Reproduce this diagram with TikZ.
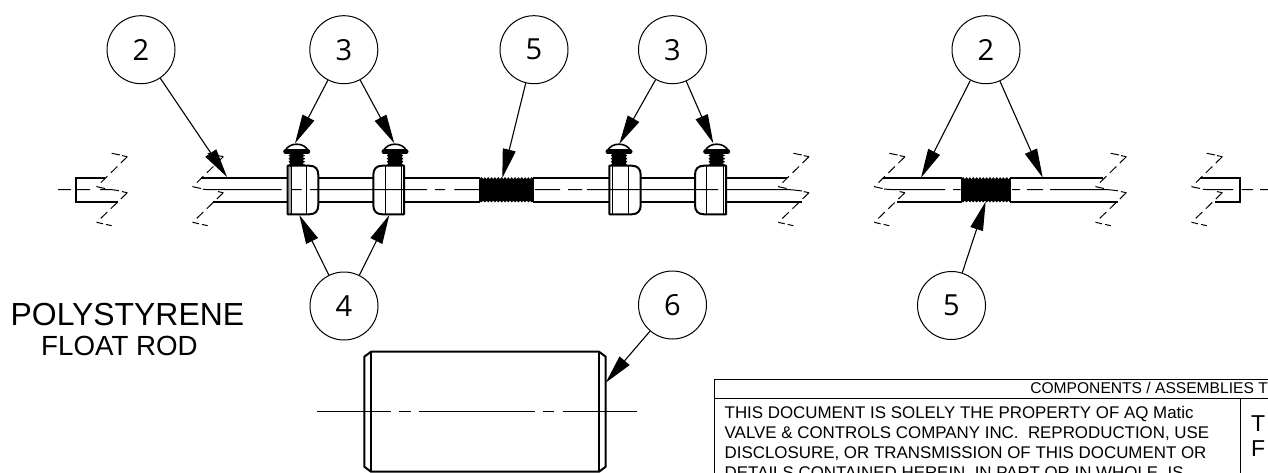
\documentclass[tikz,border=0pt]{standalone}
\usepackage{fontspec}
\setmainfont{Open Sans}
\newfontfamily\arialf{Liberation Sans}
\usetikzlibrary{arrows.meta}
\tikzset{
  balloon/.style={draw,circle,line width=1pt,minimum size=68pt,inner sep=0pt,font=\fontsize{29}{29}\selectfont},
  leader/.style={line width=1.1pt,-{Triangle[length=29pt,width=13pt]}},
  outline/.style={line width=2pt},
  centre/.style={line width=1pt},
  brk/.style={line width=1pt,dash pattern=on 9pt off 5pt},
  thin line/.style={line width=1pt},
  lbl/.style={anchor=base west,inner sep=0pt},
}
\newcommand{\breaksym}[1]{%
  \begin{scope}[xshift=#1pt]
  \draw[thin line] (111.7,153.3)--(120,155);
  \draw[brk] (127.3,156.7)--(96.7,186.7);
  \draw[thin line] (127.3,156.7)--(122,155.6);
  \draw[thin line] (96.7,186.7)--(105,188.5);
  \draw[thin line] (127.3,192.7)--(122,191.6);
  \draw[brk] (127.3,192.7)--(96.7,222.3);
  \draw[thin line] (96.7,222.3)--(103,223.8);
  \draw[thin line] (106,224.4)--(111.7,225.7);
  \end{scope}}
\newcommand{\threadblock}[2]{%
  \fill (#1,178.8) rectangle (#2,200.8);
  \foreach \k in {0,...,30}{
    \pgfmathsetmacro{\tx}{#1+1.5+\k*3.35}
    \pgfmathparse{\tx<#2?1:0}
    \ifnum\pgfmathresult=1
      \fill (\tx,178.6) circle (1.4pt);
      \fill (\tx,201) circle (1.4pt);
    \fi
  }}
\newcommand{\screw}[1]{%
  \begin{scope}[xshift=#1pt]
  \fill (-6.7,153) rectangle (6.7,166.5);
  \foreach \yy in {155.5,158.6,161.7,164.8}{\fill (-7,\yy) circle (1.2pt);\fill (7,\yy) circle (1.2pt);}
  \draw[line width=1.6pt,fill=white,line join=round] (-12,151.5) .. controls (-9.5,146.2) and (-5,144.2) .. (0,144.2) .. controls (5,144.2) and (9.5,146.2) .. (12,151.5) -- cycle;
  \draw[line width=4.6pt,line cap=round] (-11.2,151.7) -- (11.2,151.7);
  \end{scope}}
\newcommand{\clampL}[3]{%
  \draw[outline,fill=white,line join=round] (#1,165.7) -- (#2-9,165.7) .. controls (#2-3,165.7) and (#2,169) .. (#2,175) -- (#2,205) .. controls (#2,211) and (#2-3,214.3) .. (#2-9,214.3) -- (#1,214.3) -- cycle;
  \draw[line width=1.4pt] (#1+3.3,165.7) -- (#1+3.3,214.3);
  \draw[line width=1.4pt] (#3,165.7) -- (#3,214.3);}
\newcommand{\clampR}[3]{%
  \draw[outline,fill=white,line join=round] (#2,165.7) -- (#1+9,165.7) .. controls (#1+3,165.7) and (#1,169) .. (#1,175) -- (#1,205) .. controls (#1,211) and (#1+3,214.3) .. (#1+9,214.3) -- (#2,214.3) -- cycle;
  \draw[line width=1.4pt] (#2-2.5,165.7) -- (#2-2.5,214.3);
  \draw[line width=1.4pt] (#3,165.7) -- (#3,214.3);}
\begin{document}
\begin{tikzpicture}[x=1pt,y=-1pt]
\useasboundingbox (0,0) rectangle (1268,473);
\clip (0,0) rectangle (1268,473);
% balloons
\node[balloon] (b2a) at (141,49.7) {2};
\node[balloon] (b3a) at (343.8,49.7) {3};
\node[balloon] (b5a) at (534,49.7) {5};
\node[balloon] (b3b) at (672.5,49.7) {3};
\node[balloon] (b2b) at (986,49.7) {2};
\node[balloon] (b4) at (344,306) {4};
\node[balloon] (b5b) at (951.5,305.5) {5};
\node[balloon] (b6) at (672.5,305) {6};
% rods
\draw[outline] (105,177.7) -- (76,177.7) -- (76,201.7) -- (118,201.7);
\draw[outline] (200.7,177.7) -- (480,177.7) (213,201.7) -- (480,201.7);
\draw[outline] (533,177.7) -- (786.7,177.7) (533,201.7) -- (801.7,201.7);
\draw[outline] (883,177.7) -- (961.7,177.7) (896.7,201.7) -- (961.7,201.7);
\draw[outline] (1010,177.7) -- (1103,177.7) (1010,201.7) -- (1118,201.7);
\draw[outline] (1200,177.7) -- (1240,177.7) -- (1240,201.7) -- (1215,201.7);
\draw[outline] (480,177.7) -- (480,201.7) (533,177.7) -- (533,201.7) (961.7,177.7) -- (961.7,201.7) (1010,177.7) -- (1010,201.7);
% threads
\threadblock{480}{533.3}
\threadblock{961.7}{1010}
% clamps
\screw{296.7}\screw{395}\screw{619}\screw{716.7}
\clampL{287.7}{318.3}{306.7}
\fill[gray!70] (288.7,166.7) rectangle (290.9,213.3);
\clampR{373.3}{404}{385.7}
\clampL{609.3}{640.7}{628.3}
\clampR{695}{726}{706.7}
% centre lines
\draw[centre] (58,189.7) -- (71,189.7) (76,189.7) -- (90,189.7) (100,189.7) -- (112,189.7) .. controls (115,190) and (117,190.4) .. (119,190.8);
\draw[centre] (203,189.4) -- (212,189.7) -- (281.7,189.7) (292,189.7) -- (301.7,189.7) (310,189.7) -- (427,189.7) (435,189.7) -- (445,189.7) (454.3,189.7) -- (480,189.7);
\draw[centre] (535,189.7) -- (560,189.7) (568,189.7) -- (582,189.7) (587,189.7) -- (718,189.7) (727,189.7) -- (790,189.7) .. controls (795,190) and (799,190.6) .. (802,191);
\draw[centre] (884,189) -- (892,189.7) -- (945,189.7) (953,189.7) -- (960.7,189.7) (1012,189.7) -- (1020,189.7) (1027,189.7) -- (1043,189.7) (1050,189.7) -- (1108,189.7) .. controls (1112,190) and (1115,190.4) .. (1118,190.8);
\draw[centre] (1203,189.4) -- (1212,189.7) -- (1233,189.7) (1241.7,189.7) -- (1253,189.7) (1260,189.7) -- (1268,189.7);
% breaks
\breaksym{0}\breaksym{96}\breaksym{681.7}\breaksym{777.6}\breaksym{999}\breaksym{1095}
% tips
\coordinate (t2a) at (227,177);
\coordinate (t3a) at (295,143.3);
\coordinate (t3b) at (394.3,143.3);
\coordinate (t5a) at (502.3,178);
\coordinate (t3c) at (619.3,144);
\coordinate (t3d) at (713.3,143.3);
\coordinate (t2c) at (921,177.7);
\coordinate (t2d) at (1042.7,177.7);
\coordinate (t5b) at (985.7,201.5);
\coordinate (t4a) at (299.3,215);
\coordinate (t4b) at (389.3,215);
\coordinate (t6) at (605.7,382.7);
\draw[leader] (b2a) -- (t2a);
\draw[leader] (b3a) -- (t3a);
\draw[leader] (b3a) -- (t3b);
\draw[leader] (b5a) -- (t5a);
\draw[leader] (b3b) -- (t3c);
\draw[leader] (b3b) -- (t3d);
\draw[leader] (b2b) -- (t2c);
\draw[leader] (b2b) -- (t2d);
\draw[leader] (b5b) -- (t5b);
\draw[leader] (b4) -- (t4a);
\draw[leader] (b4) -- (t4b);
\draw[leader] (b6) -- (t6);
% part 6
\draw[outline,line join=round] (371,351.7) -- (599,351.7) -- (605.7,356.7) -- (605.7,466.7) -- (599,471.7) -- (371,471.7) -- (364.3,466.7) -- (364.3,356.7) -- cycle;
\draw[outline] (371,351.7) -- (371,471.7) (599,351.7) -- (599,471.7);
\draw[line width=1.2pt] (316.7,411.3) -- (391,411.3) (399.3,411.3) -- (410.7,411.3) (419,411.3) -- (535,411.3) (543.3,411.3) -- (554.3,411.3) (562.7,411.3) -- (637.3,411.3);
% labels
\node[lbl,font=\arialf\fontsize{31.9}{31.9}\selectfont] (lp) at (10.5,325) {POLYSTYRENE};
\node[lbl,font=\arialf\fontsize{27.7}{27.7}\selectfont] (lf) at (41,355.5) {FLOAT ROD};
% title block
\draw[line width=1pt] (1268,379.7) -- (714,379.7) -- (714,473);
\draw[line width=1pt] (714,398.5) -- (1268,398.5);
\draw[line width=1pt] (1240,398.5) -- (1240,473);
\node[anchor=base east,inner sep=0pt,font=\arialf\fontsize{15.6}{15.6}\selectfont] (tc) at (1268,393.5) {COMPONENTS / ASSEMBLIES T};
\node[lbl,font=\arialf\fontsize{16.9}{20}\selectfont] (tb) at (724.5,418.7) {THIS DOCUMENT IS SOLELY THE PROPERTY OF AQ Matic};
\node[lbl,font=\arialf\fontsize{16.9}{20}\selectfont] (tb2) at (724.5,438.8) {VALVE \& CONTROLS COMPANY INC.\ \ REPRODUCTION, USE};
\node[lbl,font=\arialf\fontsize{16.9}{20}\selectfont] (tb3) at (724.5,458.7) {DISCLOSURE, OR TRANSMISSION OF THIS DOCUMENT OR};
\node[lbl,font=\arialf\fontsize{16.9}{20}\selectfont] (tb4) at (724.5,478.6) {DETAILS CONTAINED HEREIN, IN PART OR IN WHOLE, IS};
\node[lbl,font=\arialf\fontsize{23}{23}\selectfont] (tr1) at (1251,431) {T};
\node[lbl,font=\arialf\fontsize{23}{23}\selectfont] (tr2) at (1251,456) {F};
\end{tikzpicture}
\end{document}
